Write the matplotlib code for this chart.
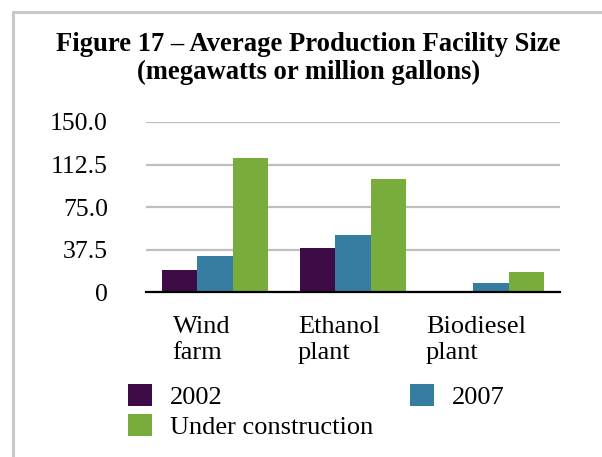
import numpy as np
import matplotlib.pyplot as plt
from matplotlib.patches import Rectangle
from matplotlib.transforms import blended_transform_factory

plt.rcParams['font.family'] = ['Liberation Serif', 'DejaVu Serif']

# data
categories = ['Wind\nfarm', 'Ethanol\nplant', 'Biodiesel\nplant']
series = ['2002', '2007', 'Under construction']
v2002 = [20.0, 39.0, 0.0]
v2007 = [32.0, 50.5, 8.0]
vuc = [118.0, 100.0, 18.0]
yticks = [0, 37.5, 75.0, 112.5, 150.0]
yticklabels = ['0', '37.5', '75.0', '112.5', '150.0']
colors = ['#3d0c46', '#357ea2', '#79ad3b']

W, H = 602, 457
fig = plt.figure(figsize=(W / 100, H / 100), dpi=100)

# light gray frame (only top and left edges visible)
fig.add_artist(Rectangle((13 / W, -0.2), 1.5, 1.2 - 11.5 / H, transform=fig.transFigure,
                         fill=False, edgecolor='#c8c8c8', lw=2.2))

ax = fig.add_axes([146 / W, 1 - 292.3 / H, 414 / W, 170.3 / H])
x = np.arange(len(categories))
w = 0.254
bars = []
for i, (vals, c) in enumerate(zip([v2002, v2007, vuc], colors)):
    bars.append(ax.bar(x + (i - 1) * w, vals, w, color=c, zorder=3))

ax.set_xlim(-0.5, 2.5)
ax.set_ylim(0, 150)
ax.set_yticks(yticks)
ax.set_yticklabels(yticklabels, fontsize=18.5)
ax.tick_params(axis='y', length=0, pad=27.4)
ax.set_xticks([])
ax.set_axisbelow(True)
ax.yaxis.grid(True, color='#bfbfbf', linewidth=1.6)
for s in ['top', 'right', 'left']:
    ax.spines[s].set_visible(False)
ax.spines['bottom'].set_color('black')
ax.spines['bottom'].set_linewidth(1.6)
ax.spines['bottom'].set_zorder(4)

# category labels (wrapped, left aligned lines)
offs = [-0.307, -0.399, -0.471]
tr = blended_transform_factory(ax.transData, ax.transAxes)
for i, lab in enumerate(categories):
    ax.text(x[i] + offs[i], -0.14, lab, transform=tr, ha='left', va='top',
            fontsize=19, linespacing=1.25)

fig.text(308.6 / W, 1 - 32 / H, 'Figure 17 \u2013 Average Production Facility Size\n(megawatts or million gallons)',
         ha='center', va='top', fontsize=19.2, fontweight='bold', linespacing=1.13)

fig.legend(handles=[bars[0], bars[2], bars[1]], labels=[series[0], series[2], series[1]],
           ncol=2, loc='upper left', bbox_to_anchor=(128 / W, 1 - 384 / H), frameon=False,
           fontsize=19, handlelength=0.9, handleheight=0.9, handletextpad=0.68,
           columnspacing=1.4, borderpad=0, borderaxespad=0, labelspacing=0.2)

fig.savefig('out.png', dpi=100)
